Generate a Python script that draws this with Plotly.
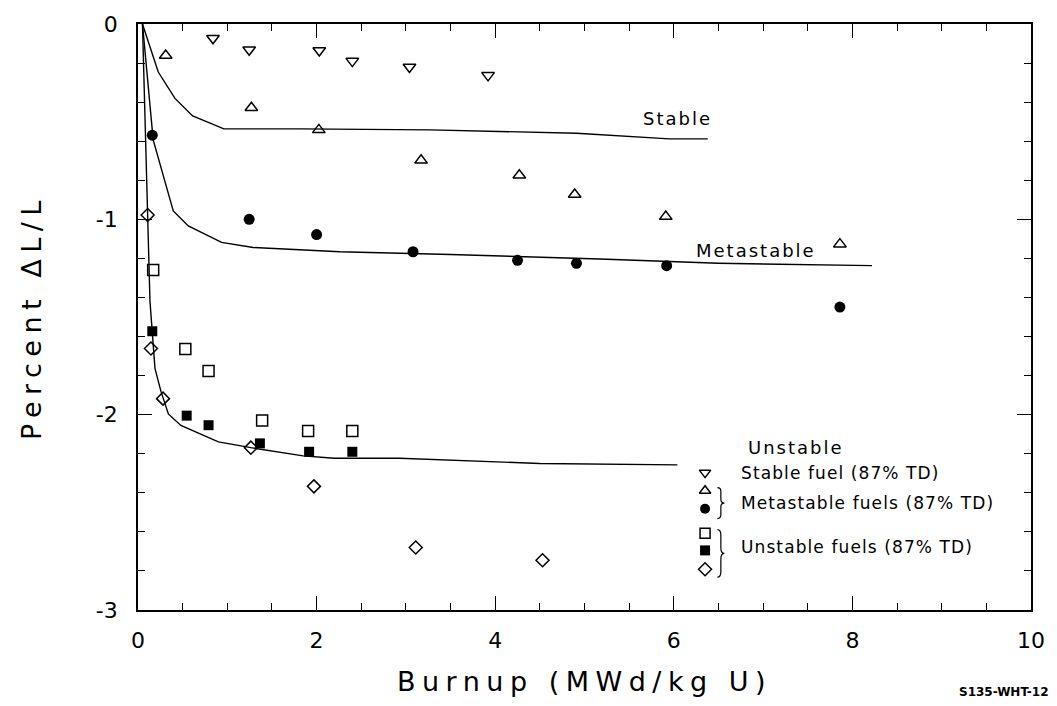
import plotly.graph_objects as go

# ---------------- data ----------------
stable_x = [0.84, 1.245, 2.03, 2.40, 3.04, 3.92]
stable_y = [-0.073, -0.132, -0.136, -0.19, -0.22, -0.263]

meta_tri_x = [0.31, 1.27, 2.025, 3.17, 4.27, 4.89, 5.91, 7.86]
meta_tri_y = [-0.161, -0.429, -0.542, -0.698, -0.774, -0.873, -0.986, -1.127]

meta_circ_x = [0.16, 1.245, 2.0, 3.08, 4.25, 4.91, 5.92, 7.86]
meta_circ_y = [-0.569, -1.0, -1.078, -1.166, -1.21, -1.225, -1.237, -1.449]

unst_osq_x = [0.17, 0.53, 0.79, 1.39, 1.905, 2.40]
unst_osq_y = [-1.259, -1.664, -1.776, -2.03, -2.084, -2.084]

unst_fsq_x = [0.16, 0.545, 0.79, 1.365, 1.916, 2.40]
unst_fsq_y = [-1.573, -2.005, -2.054, -2.147, -2.19, -2.19]

unst_dia_x = [0.108, 0.145, 0.28, 1.264, 1.97, 3.11, 4.53]
unst_dia_y = [-0.978, -1.661, -1.918, -2.169, -2.367, -2.68, -2.745]

curve_stable_x = [0.05, 0.227, 0.414, 0.612, 0.962, 1.81, 3.27, 4.91, 5.95, 6.38]
curve_stable_y = [0.0, -0.246, -0.381, -0.471, -0.537, -0.537, -0.542, -0.559, -0.588, -0.588]

curve_meta_x = [0.05, 0.17, 0.395, 0.563, 0.936, 1.29, 2.26, 3.5, 5.17, 6.5, 8.22]
curve_meta_y = [0.0, -0.593, -0.957, -1.034, -1.118, -1.144, -1.166, -1.18, -1.203, -1.225, -1.237]

curve_unst_x = [0.05, 0.097, 0.134, 0.19, 0.257, 0.34, 0.48, 0.9, 1.264, 1.85, 2.2, 2.93, 4.5, 6.04]
curve_unst_y = [0.0, -0.813, -1.42, -1.763, -1.881, -1.996, -2.055, -2.139, -2.169, -2.211, -2.223, -2.223, -2.25, -2.257]

y_tickvals = [0, -1, -2, -3]
y_ticktext = ["0", "-1", "-2", "-3"]
x_tickvals = [0, 2, 4, 6, 8, 10]
x_ticktext = ["0", "2", "4", "6", "8", "10"]

legend_symbols = ["triangle-down-open", "triangle-up-open", "circle", "square-open", "square", "diamond-open"]
legend_text = ["Stable fuel (87% TD)", "Metastable fuels (87% TD)", "Unstable fuels (87% TD)"]

curve_labels = ["Stable", "Metastable", "Unstable"]
curve_label_x = [6.04, 6.92, 7.37]
curve_label_y = [-0.485, -1.16, -2.17]

FONT = "DejaVu Sans"
BLACK = "#000000"

fig = go.Figure()

def curve(x, y):
    fig.add_trace(go.Scatter(x=x, y=y, mode="lines", line=dict(color=BLACK, width=1.4),
                             showlegend=False, hoverinfo="skip"))

curve(curve_stable_x, curve_stable_y)
curve(curve_meta_x, curve_meta_y)
curve(curve_unst_x, curve_unst_y)

def pts(x, y, symbol, size=11, lw=1.5):
    fig.add_trace(go.Scatter(x=x, y=y, mode="markers",
                             marker=dict(symbol=symbol, size=size, color=BLACK,
                                         line=dict(color=BLACK, width=lw)),
                             showlegend=False))

pts(stable_x, stable_y, "triangle-down-open", 11)
pts(meta_tri_x, meta_tri_y, "triangle-up-open", 11)
pts(meta_circ_x, meta_circ_y, "circle", 11, 0)
pts(unst_osq_x, unst_osq_y, "square-open", 11)
pts(unst_fsq_x, unst_fsq_y, "square", 10, 0)
pts(unst_dia_x, unst_dia_y, "diamond-open", 10)

# legend keys on an overlay paper-like axis
leg_x = 0.635
leg_y = [0.2344, 0.2034, 0.1729, 0.131, 0.1017, 0.0695]
for s, yy in zip(legend_symbols, leg_y):
    filled = not s.endswith("open")
    fig.add_trace(go.Scatter(x=[leg_x], y=[yy], mode="markers", xaxis="x2", yaxis="y2",
                             marker=dict(symbol=s, size=10, color=BLACK,
                                         line=dict(color=BLACK, width=0 if filled else 1.5)),
                             showlegend=False, hoverinfo="skip"))

annotations = []
for t, yy in zip(legend_text, [0.2339, 0.183, 0.1068]):
    annotations.append(dict(x=0.6734, y=yy, xref="paper", yref="paper", text=t,
                            showarrow=False, xanchor="left", yanchor="middle",
                            font=dict(family=FONT, size=17, color=BLACK)))
for t, xx, yy in zip(curve_labels, curve_label_x, curve_label_y):
    annotations.append(dict(x=xx, y=yy, xref="x", yref="y", text=t, showarrow=False,
                            xanchor="center", yanchor="middle",
                            font=dict(family=FONT, size=18, color=BLACK)))
annotations.append(dict(x=(958 - 138) / 894, y=-(692.7 - 610) / 590, xref="paper", yref="paper",
                        text="<b>S135-WHT-12</b>", showarrow=False, xanchor="left",
                        yanchor="middle", font=dict(family=FONT, size=12, color=BLACK)))

def brace(x0, x1, ytop, ybot):
    xm = (x0 + x1) / 2
    ym = (ytop + ybot) / 2
    d = (ytop - ybot) * 0.12
    return (f"M {x0},{ytop} Q {xm},{ytop} {xm},{ytop - d} L {xm},{ym + d} "
            f"Q {xm},{ym} {x1},{ym} Q {xm},{ym} {xm},{ym - d} L {xm},{ybot + d} "
            f"Q {xm},{ybot} {x0},{ybot}")

shapes = [
    dict(type="path", xref="paper", yref="paper", path=brace(0.6488, 0.6566, 0.209, 0.156),
         line=dict(color=BLACK, width=1.2)),
    dict(type="path", xref="paper", yref="paper", path=brace(0.6488, 0.6566, 0.137, 0.056),
         line=dict(color=BLACK, width=1.2)),
]

axis_common = dict(showgrid=False, zeroline=False, showline=True, linecolor=BLACK, linewidth=1.6,
                   mirror="ticks", ticks="inside", ticklen=14, tickwidth=1.2, tickcolor=BLACK,
                   tickfont=dict(family=FONT, size=22, color=BLACK))

fig.update_layout(
    width=1057, height=706,
    margin=dict(l=138, r=25, t=20, b=96),
    paper_bgcolor="white", plot_bgcolor="white",
    showlegend=False,
    xaxis=dict(range=[0, 10], tickvals=x_tickvals, ticktext=x_ticktext,
               minor=dict(dtick=0.5, ticks="inside", ticklen=7, tickcolor=BLACK, tickwidth=1),
               title=dict(text="Burnup (MWd/kg U)", font=dict(family=FONT, size=27, color=BLACK),
                          standoff=20),
               ticklabelstandoff=10, **axis_common),
    yaxis=dict(range=[-3, 0], tickvals=y_tickvals, ticktext=y_ticktext,
               minor=dict(dtick=0.2, tick0=0, ticks="inside", ticklen=7, tickcolor=BLACK, tickwidth=1),
               title=dict(text="Percent ΔL/L", font=dict(family=FONT, size=27, color=BLACK),
                          standoff=46),
               ticklabelstandoff=14, **axis_common),
    xaxis2=dict(range=[0, 1], overlaying="x", visible=False, fixedrange=True),
    yaxis2=dict(range=[0, 1], overlaying="y", visible=False, fixedrange=True),
    annotations=annotations,
    shapes=shapes,
)

# widen letter spacing of texts to match the spaced-out typesetting of the original;
# left-anchored annotations keep their left edge
post = """
var gd = document.getElementById('{plot_id}');
function sp(sel, v) { gd.querySelectorAll(sel).forEach(function (e) { e.style.letterSpacing = v; }); }
sp('.xtitle', '6.5px');
sp('.ytitle', '6.5px');
gd.querySelectorAll('.annotation-text').forEach(function (e) {
  var t = e.textContent;
  var v = '1.1px';
  if (t === 'Stable' || t === 'Metastable' || t === 'Unstable') { v = '2px'; }
  else if (t.indexOf('S135') === 0) { return; }
  var keepLeft = !(t === 'Stable' || t === 'Metastable' || t === 'Unstable');
  var w0 = e.getComputedTextLength();
  e.style.letterSpacing = v;
  if (keepLeft) {
    var w1 = e.getComputedTextLength();
    var x0 = parseFloat(e.getAttribute('x')) || 0;
    e.setAttribute('x', x0 + (w1 - w0) / 2);
  }
});
"""

fig.write_html("out.html", post_script=post)
